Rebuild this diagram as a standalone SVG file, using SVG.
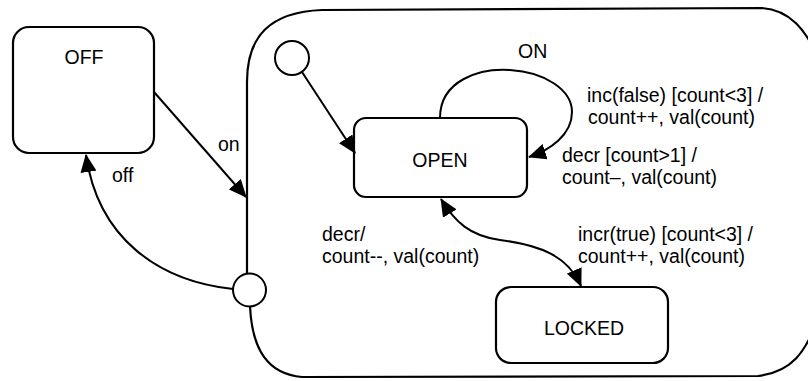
<svg xmlns="http://www.w3.org/2000/svg" width="808" height="381" viewBox="0 0 808 381">
  <style>
    .box { fill: #fff; stroke: #000; stroke-width: 2.2; }
    .pseudo { fill: #fff; stroke: #000; stroke-width: 2; }
    .edge { fill: none; stroke: #000; stroke-width: 2; }
    .name { font-family: "Liberation Sans", Arial, sans-serif; font-size: 19.5px; fill: #000; text-anchor: middle; }
    .label { font-family: "Liberation Sans", Arial, sans-serif; font-size: 19.5px; fill: #000; }
  </style>
  <defs>
    <marker id="head" viewBox="0 0 18 16" refX="17" refY="8" markerWidth="18" markerHeight="16" markerUnits="userSpaceOnUse" orient="auto-start-reverse">
      <path d="M0,0 L18,8 L0,16 Z" fill="#000"/>
    </marker>
  </defs>
  <rect width="808" height="381" fill="#fff"/>

  <!-- composite state holding OPEN and LOCKED -->
  <g id="active">
    <path class="box" d="M 247 274 L 247 82 C 247 36 270 12 322 10 L 762 8 C 790 10 806 30 818 58 L 818 318 C 806 352 792 372 758 376 L 302 377 C 268 374 252 350 250 306"/>
  </g>

  <g id="off-state">
    <rect class="box" x="13" y="27" width="141" height="126" rx="16"/>
    <text class="name" x="84" y="64">OFF</text>
  </g>

  <g id="open-state">
    <rect class="box" x="354" y="118" width="173" height="79" rx="12"/>
    <text class="name" x="440" y="167">OPEN</text>
  </g>

  <g id="locked-state">
    <rect class="box" x="496" y="287" width="172" height="76" rx="15"/>
    <text class="name" x="584" y="335">LOCKED</text>
  </g>

  <g id="initial">
    <circle class="pseudo" cx="292" cy="58" r="17"/>
  </g>

  <g id="exit-point">
    <circle class="pseudo" cx="249.5" cy="290" r="16.5"/>
  </g>

  <g id="connectors">
    <!-- on -->
    <path class="edge" d="M 154 92 L 246 197" marker-end="url(#head)"/>
    <!-- off -->
    <path class="edge" d="M 233 289 C 158 281 98 238 86 155" marker-end="url(#head)"/>
    <!-- initial -->
    <path class="edge" d="M 302 72 L 355 153" marker-end="url(#head)"/>
    <!-- self transition on OPEN -->
    <path class="edge" d="M 440 118 C 440 80 480 68 510 70 C 545 72 572 90 572 112 C 572 135 550 150 529 157" marker-end="url(#head)"/>
    <!-- OPEN / LOCKED -->
    <path class="edge" d="M 441 199 C 455 222 470 236 500 240 C 540 245 568 256 581 286" marker-start="url(#head)" marker-end="url(#head)"/>

    <text class="label" x="218" y="151">on</text>
    <text class="label" x="112" y="182">off</text>
    <text class="label" x="518" y="58">ON</text>
    <text class="label" x="587" y="102">inc(false) [count&lt;3] /</text>
    <text class="label" x="588" y="124">count++, val(count)</text>
    <text class="label" x="562" y="162">decr [count&gt;1] /</text>
    <text class="label" x="562" y="184">count–, val(count)</text>
    <text class="label" x="322" y="241">decr/</text>
    <text class="label" x="322" y="263">count--, val(count)</text>
    <text class="label" x="578" y="241">incr(true) [count&lt;3] /</text>
    <text class="label" x="578" y="263">count++, val(count)</text>
  </g>
</svg>
